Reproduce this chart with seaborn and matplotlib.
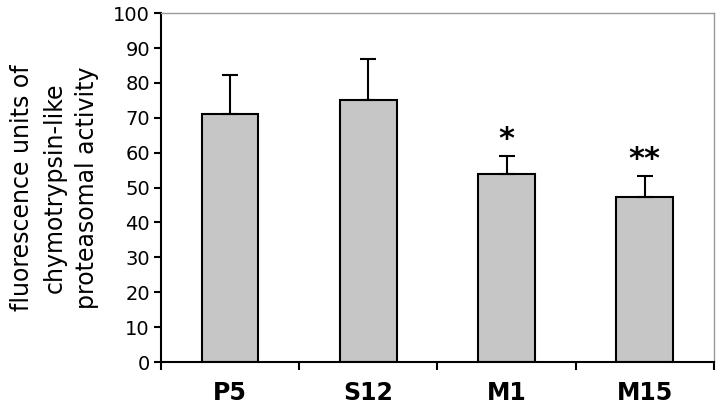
import matplotlib
matplotlib.use("Agg")
from matplotlib import pyplot as plt
import seaborn as sns
import pandas as pd
import numpy as np

groups = ["P5", "S12", "M1", "M15"]
activity = [71, 75, 54, 47.3]
sem = [11.2, 12, 5, 6]
marks = ["", "", "*", "**"]

df = pd.DataFrame({"group": groups, "activity": activity})

sns.set_style("white")
plt.rcParams["font.family"] = ["DejaVu Sans"]
plt.rcParams["text.color"] = "black"
plt.rcParams["axes.labelcolor"] = "black"
plt.rcParams["xtick.color"] = "black"
plt.rcParams["ytick.color"] = "black"

fig = plt.figure(figsize=(7.2, 4.08), dpi=100)
ax = fig.add_axes([0.2236, 0.1127, 0.768, 0.855])

sns.barplot(data=df, x="group", y="activity", color="#c6c6c6", width=0.41,
            edgecolor="black", linewidth=1.5, saturation=1, ax=ax)

# one-sided error bars (upward only)
x = np.arange(len(groups))
ax.errorbar(x, activity, yerr=[np.zeros(len(sem)), sem], fmt="none",
            ecolor="black", elinewidth=1.5, capsize=6, capthick=1.5, zorder=3)

for xi, v, e, m in zip(x, activity, sem, marks):
    if m:
        ax.text(xi, v + e + 0.5, m, ha="center", va="bottom",
                fontsize=22, fontweight="bold", family="DejaVu Sans")

ax.set_ylim(0, 100)
ax.set_xlim(-0.5, len(groups) - 0.5)
ax.set_yticks(range(0, 101, 10))
ax.tick_params(axis="y", which="major", direction="out", length=5, width=1.5,
               labelsize=14, pad=3, left=True)
ax.set_xticks(np.arange(-0.5, len(groups), 1), minor=True)
ax.tick_params(axis="x", which="minor", direction="out", length=6, width=1.5, bottom=True)
ax.tick_params(axis="x", which="major", length=0, pad=14)
for lbl in ax.get_xticklabels():
    lbl.set_fontsize(17)
    lbl.set_fontweight("bold")
    lbl.set_family(["Liberation Sans Narrow", "DejaVu Sans"])

ax.set_xlabel("")
ax.set_ylabel("fluorescence units of\nchymotrypsin-like\nproteasomal activity",
              fontsize=17, linespacing=1.45, labelpad=10)

for s in ["left", "bottom"]:
    ax.spines[s].set_color("black")
    ax.spines[s].set_linewidth(1.5)
for s in ["top", "right"]:
    ax.spines[s].set_color("#999999")
    ax.spines[s].set_linewidth(1)

fig.savefig("out.png", dpi=100)
